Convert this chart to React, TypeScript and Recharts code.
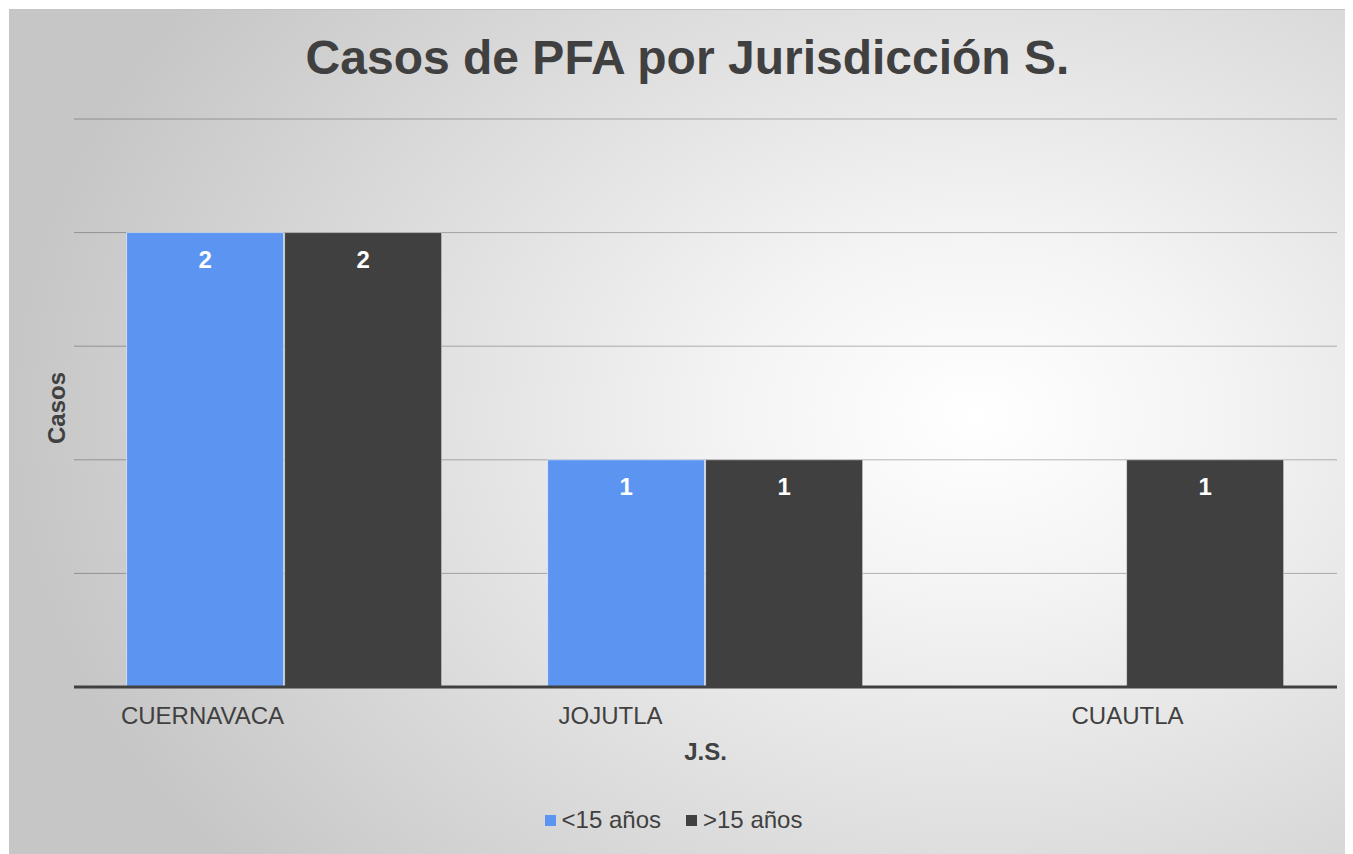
import { BarChart, Bar, XAxis, YAxis, CartesianGrid, Legend, LabelList } from "recharts";

const categories = ["CUERNAVACA", "JOJUTLA", "CUAUTLA"];
const menores15 = [2, 1, 0];
const mayores15 = [2, 1, 1];
const yTicks = [0, 0.5, 1, 1.5, 2, 2.5];

const data = categories.map((c, i) => ({ name: c, menores: menores15[i], mayores: mayores15[i] }));

const FONT = "'Liberation Sans', Arial, sans-serif";
const TEXT = "#404040";
const BLUE = "#5b94f1";
const DARK = "#404040";

// labels in the original sit off-centre in their category
const tickShift: Record<string, number> = { CUERNAVACA: -82, JOJUTLA: -95, CUAUTLA: 1 };

function CategoryTick(props: any) {
  const { x, y, payload } = props;
  return (
    <text x={x + (tickShift[payload.value] ?? 0)} y={y + 37} textAnchor="middle" fill={TEXT} fontSize={24} fontFamily={FONT}>
      {payload.value}
    </text>
  );
}

function ValueLabel(props: any) {
  const { x, y, width, value } = props;
  const ty = value === 0 ? y - 15 : y + 35;
  return (
    <text x={x + width / 2} y={ty} textAnchor="middle" fill="#fff" fontSize={24} fontWeight="bold" fontFamily={FONT}>
      {value}
    </text>
  );
}

function LegendBox({ payload }: any) {
  return (
    <div style={{ display: "flex", justifyContent: "center", gap: 25, fontFamily: FONT, fontSize: 24, color: TEXT }}>
      {(payload ?? []).map((p: any) => (
        <div key={p.value} style={{ display: "flex", alignItems: "center" }}>
          <span style={{ width: 11, height: 11, background: p.color, marginRight: 6, display: "inline-block" }} />
          <span>{p.value}</span>
        </div>
      ))}
    </div>
  );
}

export default function App() {
  return (
    <div
      style={{
        position: "relative",
        margin: "1px 0 0 1px",
        width: 1343,
        height: 844,
        border: "1px solid #c4c4c4",
        borderRight: "none",
        borderBottom: "none",
        background: "radial-gradient(ellipse 72% 85% at 72% 48%, #ffffff 0%, #f4f4f4 25%, #c6c6c6 100%)",
        overflow: "hidden",
      }}
    >
      <div
        style={{
          position: "absolute",
          top: 24,
          left: 6,
          width: "100%",
          textAlign: "center",
          fontFamily: FONT,
          fontWeight: "bold",
          fontSize: 48,
          lineHeight: "48px",
          color: TEXT,
        }}
      >
        Casos de PFA por Jurisdicción S.
      </div>
      <BarChart
        width={1343}
        height={844}
        data={data}
        margin={{ top: 109, right: 16, left: 0, bottom: 20 }}
        barCategoryGap="12.5%"
        barGap={1}
        style={{ position: "absolute", top: 0, left: 0 }}
      >
        <CartesianGrid vertical={false} stroke="#000" strokeOpacity={0.28} />
        <YAxis
          width={64}
          domain={[0, 2.5]}
          ticks={yTicks}
          interval={0}
          tick={() => <g />}
          tickLine={false}
          axisLine={false}
          label={(p: any) => {
            const vb = p.viewBox;
            const cx = 46;
            const cy = vb.y + vb.height / 2 + 5;
            return (
              <text x={cx} y={cy} transform={`rotate(-90 ${cx} ${cy})`} textAnchor="middle" dominantBaseline="central" fill={TEXT} fontSize={24} fontWeight="bold" fontFamily={FONT}>
                Casos
              </text>
            );
          }}
        />
        <XAxis
          dataKey="name"
          height={119}
          tickLine={false}
          tickSize={0}
          tickMargin={0}
          axisLine={{ stroke: DARK, strokeWidth: 3 }}
          tick={<CategoryTick />}
          interval={0}
          label={{ value: "J.S.", position: "insideTop", offset: 56, fill: TEXT, fontSize: 24, fontWeight: "bold", fontFamily: FONT }}
        />
        <Legend verticalAlign="bottom" content={<LegendBox />} />
        <Bar dataKey="menores" name="<15 años" fill={BLUE} stroke="rgba(255,255,255,0.55)" strokeWidth={1} isAnimationActive={false}>
          <LabelList dataKey="menores" content={<ValueLabel />} />
        </Bar>
        <Bar dataKey="mayores" name=">15 años" fill={DARK} stroke="rgba(255,255,255,0.45)" strokeWidth={1} isAnimationActive={false}>
          <LabelList dataKey="mayores" content={<ValueLabel />} />
        </Bar>
      </BarChart>
    </div>
  );
}
